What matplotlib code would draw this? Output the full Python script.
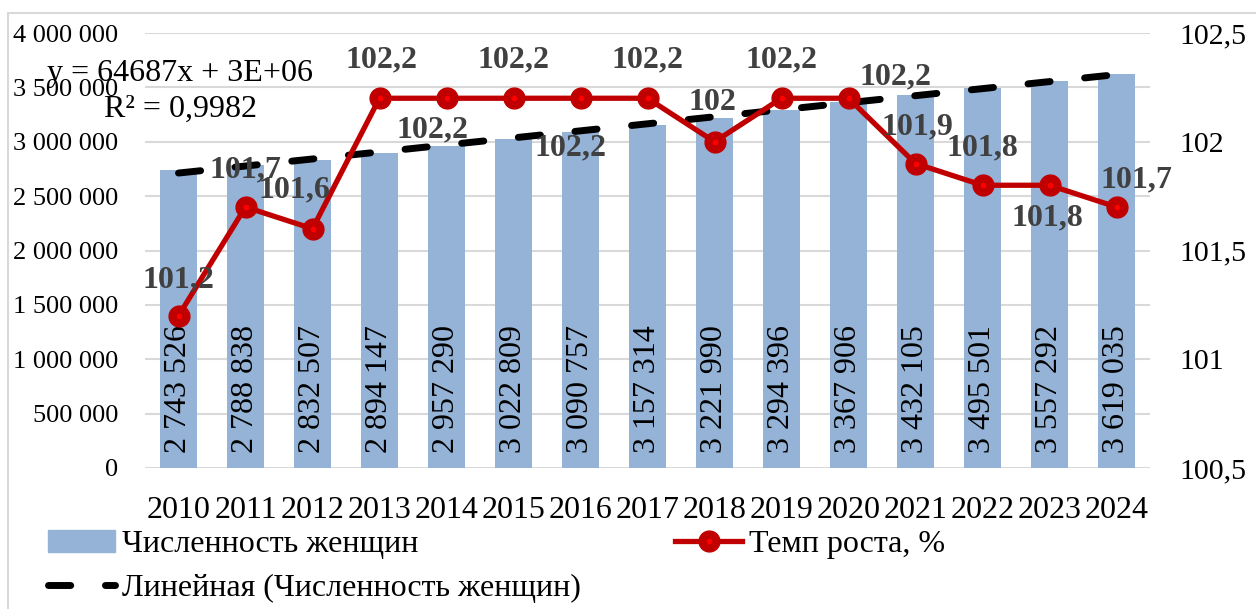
import matplotlib
matplotlib.use("Agg")
import matplotlib.pyplot as plt
from matplotlib.patches import Patch, Rectangle
from matplotlib.lines import Line2D
import numpy as np

plt.rcParams['font.family'] = ['Liberation Serif', 'DejaVu Serif']

years = ["2010", "2011", "2012", "2013", "2014", "2015", "2016", "2017",
         "2018", "2019", "2020", "2021", "2022", "2023", "2024"]
women = [2743526, 2788838, 2832507, 2894147, 2957290, 3022809, 3090757,
         3157314, 3221990, 3294396, 3367906, 3432105, 3495501, 3557292,
         3619035]
growth = [101.2, 101.7, 101.6, 102.2, 102.2, 102.2, 102.2, 102.2,
          102.0, 102.2, 102.2, 101.9, 101.8, 101.8, 101.7]
growth_labels = ["101,2", "101,7", "101,6", "102,2", "102,2", "102,2", "102,2",
                 "102,2", "102", "102,2", "102,2", "101,9", "101,8", "101,8",
                 "101,7"]
bar_labels = ["2 743 526", "2 788 838", "2 832 507", "2 894 147", "2 957 290",
              "3 022 809", "3 090 757", "3 157 314", "3 221 990", "3 294 396",
              "3 367 906", "3 432 105", "3 495 501", "3 557 292", "3 619 035"]
left_ticks = [0, 500000, 1000000, 1500000, 2000000, 2500000, 3000000,
              3500000, 4000000]
left_tick_labels = ["0", "500 000", "1 000 000", "1 500 000", "2 000 000",
                    "2 500 000", "3 000 000", "3 500 000", "4 000 000"]
right_ticks = [100.5, 101, 101.5, 102, 102.5]
right_tick_labels = ["100,5", "101", "101,5", "102", "102,5"]

# label placement offsets (pixels) for the growth-rate labels
label_offsets = [(0, 36), (0, 37), (-18, 39), (2, 38), (-14, -32), (0, 38),
                 (-10, -50), (0, 38), (-2, 39), (0, 38), (47, 21), (2, 37),
                 (0, 37), (-2, -33), (20, 27)]

BAR = "#95B3D7"
RED = "#C00000"
LBL = "#404040"
W, H = 1256, 609

fig = plt.figure(figsize=(12.56, 6.09), dpi=100)
fig.patches.append(Rectangle((8 / W, -0.1), 1.0, 0.1 + 596 / H,
                             transform=fig.transFigure, fill=False,
                             edgecolor="#d9d9d9", linewidth=1.5))
ax = fig.add_axes([145 / W, 141 / H, 1005 / W, 435 / H])
x = np.arange(len(years))

ax.bar(x, women, width=0.54, color=BAR, zorder=2)
ax.set_ylim(0, 4000000)
ax.set_xlim(-0.5, len(years) - 0.5)
ax.set_yticks(left_ticks, left_tick_labels, fontsize=19)
ax.set_xticks(x, years, fontsize=23)
ax.tick_params(length=0)
ax.tick_params(axis="y", pad=19)
ax.tick_params(axis="x", pad=20)
ax.grid(axis="y", color="#d9d9d9", linewidth=1.5, zorder=0)
ax.set_axisbelow(True)
for s in ax.spines.values():
    s.set_visible(False)

for xi, lab in zip(x, bar_labels):
    ax.annotate(lab, (xi, 0), xytext=(0, 15), textcoords="offset pixels",
                rotation=90, ha="center", va="bottom", fontsize=23,
                color="black", zorder=3)

# linear trend
k, b = np.polyfit(x + 1, women, 1)
trend = k * (x + 1) + b
ax.plot(x, trend, color="black", linewidth=5, linestyle=(0, (3.2, 5)),
        dash_capstyle="round", zorder=4)
fig.text(180 / W, 1 - 74 / H, "y = 64687x + 3E+06",
         ha="center", va="center", fontsize=23)
fig.text(180 / W, 1 - 109 / H, "R² = 0,9982",
         ha="center", va="center", fontsize=23)

ax2 = ax.twinx()
ax2.set_ylim(100.5, 102.5)
ax2.set_yticks(right_ticks, right_tick_labels, fontsize=21.5)
ax2.tick_params(length=0, pad=21)
for s in ax2.spines.values():
    s.set_visible(False)
ax2.plot(x, growth, color=RED, linewidth=3.8, marker="o", markersize=15,
         zorder=5)
ax2.plot(x, growth, linestyle="none", marker="o", markersize=3,
         color="#ff0000", zorder=6)
for xi, v, lab, (dx, dy) in zip(x, growth, growth_labels, label_offsets):
    ax2.annotate(lab, (xi, v), xytext=(dx, dy), textcoords="offset pixels",
                 ha="center", va="center", fontsize=23, fontweight="bold",
                 color=LBL, zorder=7)

h_bar = Patch(color=BAR)
h_trend = Line2D([], [], color="black", linewidth=5, linestyle=(0, (3.2, 5)),
                 dash_capstyle="round")
h_line = (Line2D([], [], color=RED, linewidth=3.8, marker="o", markersize=15),
          Line2D([], [], linestyle="none", marker="o", markersize=3,
                 color="#ff0000"))
leg_kw = dict(loc="upper left", frameon=False, fontsize=23, handlelength=2.1,
              handletextpad=0.22, labelspacing=0.45, borderaxespad=0,
              borderpad=0)
fig.legend([h_bar, h_trend],
           ["Численность женщин", "Линейная (Численность женщин)"],
           bbox_to_anchor=(48 / W, 1 - 530 / H), **leg_kw)
fig.legend([h_line], ["Темп роста, %"],
           bbox_to_anchor=(675 / W, 1 - 530 / H), **leg_kw)

fig.savefig("out.png", dpi=100)
